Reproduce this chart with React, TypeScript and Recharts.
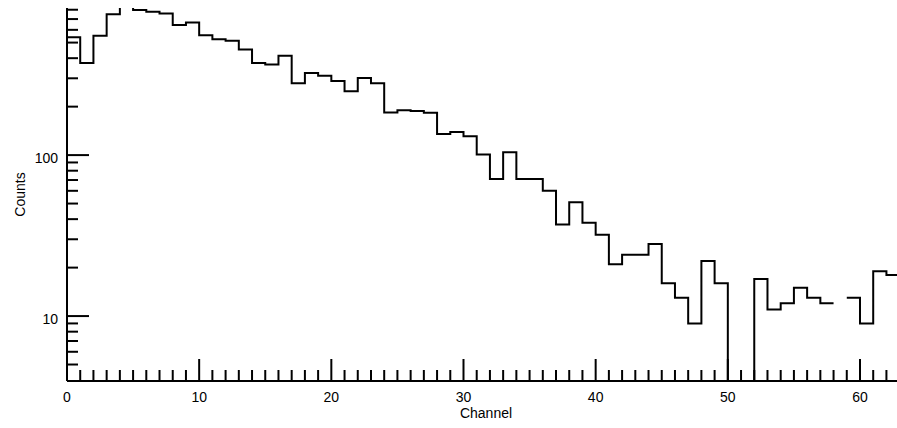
import { Line, LineChart, XAxis, YAxis } from "recharts"

// histogram bins, one count per channel (null = empty bin drawn as a gap)
const channels = Array.from({ length: 63 }, (_, i) => i)
const counts: (number | null)[] = [
    540, 374, 552, 751, 880, 796, 776, 759, 642, 667,
    556, 525, 513, 453, 374, 366, 414, 279, 324, 311,
    289, 249, 301, 279, 184, 190, 188, 183, 135, 139,
    131, 101, 71, 104, 71, 71, 60, 37, 51, 38,
    32, 21, 24, 24, 28, 16, 13, 9, 22, 16,
    0, 0, 17, 11, 12, 15, 13, 12, null, 13,
    9, 19, 18,
]

const xTicks = channels
const yTicks = [5, 6, 7, 8, 9, 10, 20, 30, 40, 50, 60, 70, 80, 90, 100, 200, 300, 400, 500, 600, 700, 800]
const yLabels = [10, 100]

const FONT = "'Liberation Sans', Arial, Helvetica, sans-serif"
const Y_MIN = 3.95
const Y_MAX = 820

// each bin becomes a flat segment from its low edge to its high edge
const rows: { channel: number; count: number | null }[] = []
channels.forEach((ch, i) => {
    const c = counts[i]
    if (c === null) {
        rows.push({ channel: ch + 0.5, count: null })
        return
    }
    const v = c === 0 ? 1 : c
    rows.push({ channel: ch, count: v })
    rows.push({ channel: ch + 1, count: v })
})

const XTick = (props: any) => {
    const { x, y, payload } = props
    const v = payload.value
    const major = v % 10 === 0
    return (
        <g>
            <line x1={x} x2={x} y1={y} y2={y - (major ? 22 : 11)} stroke="#000" strokeWidth={2} />
            {major && (
                <text x={x} y={y + 20.5} textAnchor="middle" fontSize={14} fontFamily={FONT} fill="#000">
                    {v}
                </text>
            )}
        </g>
    )
}

const YTick = (props: any) => {
    const { x, y, payload } = props
    const v = payload.value
    const major = yLabels.includes(v)
    return (
        <g>
            <line x1={x} x2={x + (major ? 22 : 11)} y1={y} y2={y} stroke="#000" strokeWidth={2} />
            {major && (
                <text x={x - 9} y={y + 8} textAnchor="end" fontSize={14} fontFamily={FONT} fill="#000">
                    {v}
                </text>
            )}
        </g>
    )
}

export default function App() {
    return (
        <div style={{ position: "absolute", left: 8, top: 8, width: 889, height: 412 }}>
            <LineChart width={889} height={412} data={rows} margin={{ top: 0, right: 0, bottom: 0, left: 0 }}>
                <XAxis
                    dataKey="channel"
                    type="number"
                    domain={[0, 62.8]}
                    allowDataOverflow
                    ticks={xTicks}
                    interval={0}
                    tickSize={0}
                    tickMargin={0}
                    tick={<XTick />}
                    height={39}
                    axisLine={{ stroke: "#000", strokeWidth: 2 }}
                    label={{
                        content: (p: any) => (
                            <text x={p.viewBox.x + 419} y={p.viewBox.y + 37} textAnchor="middle" fontSize={14} fontFamily={FONT} fill="#000">
                                Channel
                            </text>
                        ),
                    }}
                />
                <YAxis
                    type="number"
                    scale="log"
                    domain={[Y_MIN, Y_MAX]}
                    allowDataOverflow
                    ticks={yTicks}
                    interval={0}
                    tickSize={0}
                    tickMargin={0}
                    tick={<YTick />}
                    width={59}
                    axisLine={{ stroke: "#000", strokeWidth: 2 }}
                    label={{
                        content: (p: any) => {
                            const cy = p.viewBox.y + p.viewBox.height / 2
                            return (
                                <text x={17} y={cy} transform={`rotate(-90, 17, ${cy})`} textAnchor="middle" fontSize={14} fontFamily={FONT} fill="#000">
                                    Counts
                                </text>
                            )
                        },
                    }}
                />
                <Line
                    dataKey="count"
                    type="linear"
                    stroke="#000"
                    strokeWidth={2}
                    dot={false}
                    connectNulls={false}
                    isAnimationActive={false}
                />
            </LineChart>
        </div>
    )
}
